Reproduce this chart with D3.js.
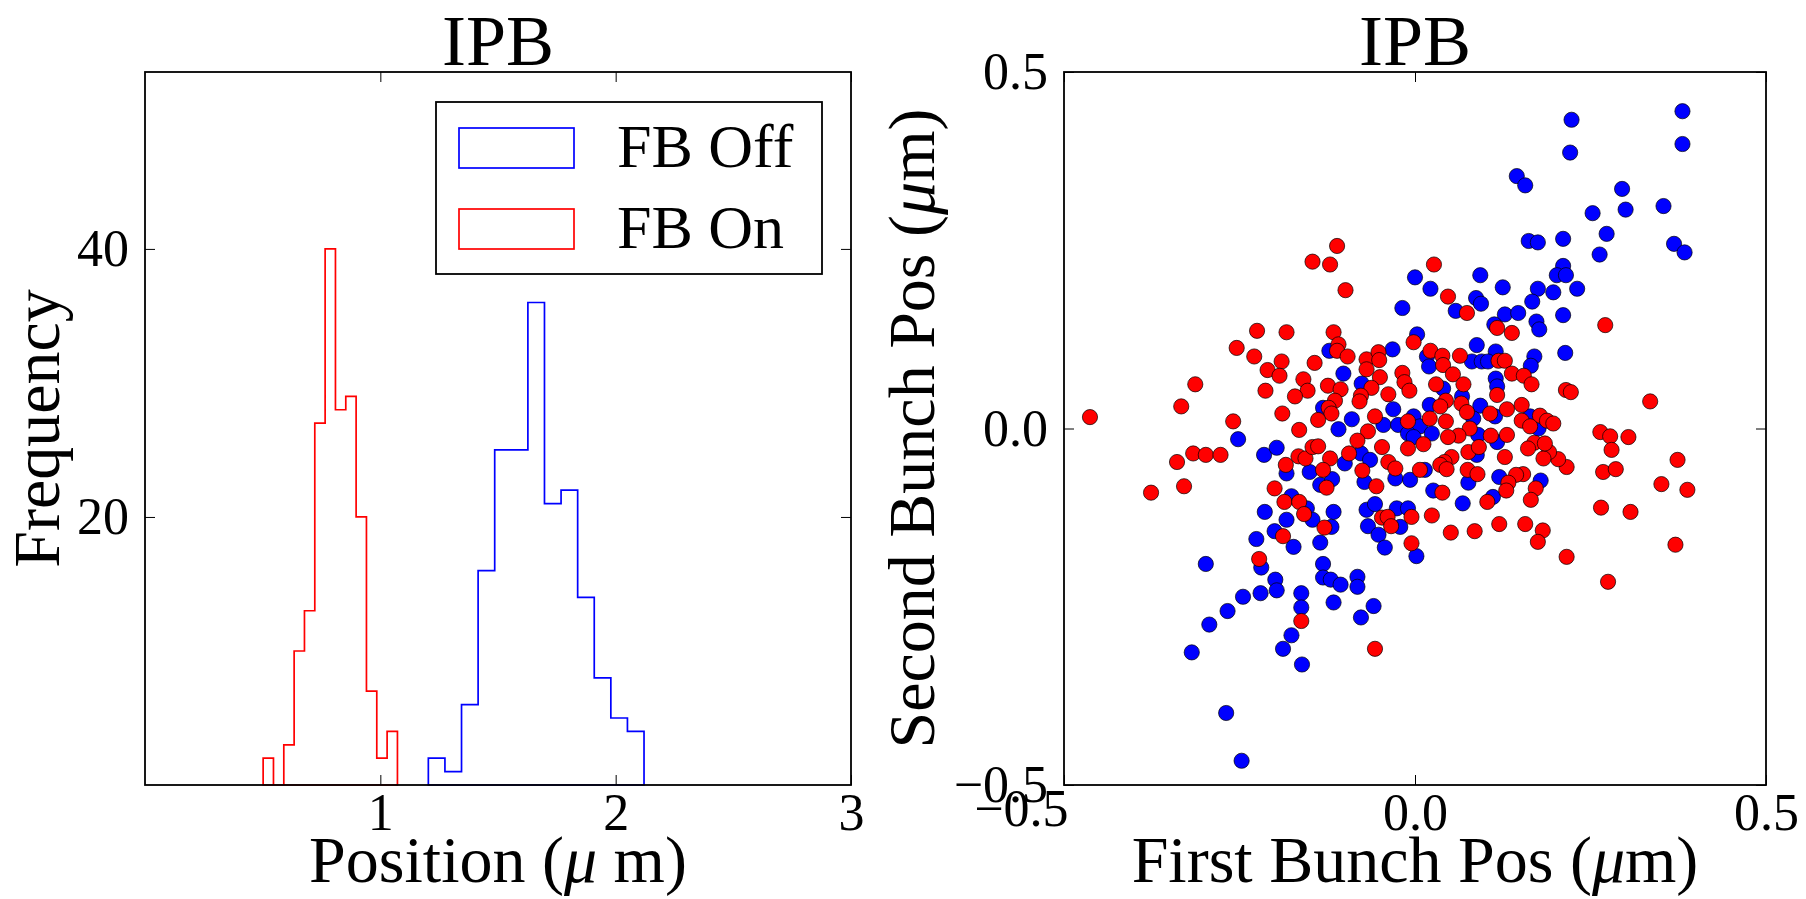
<!DOCTYPE html>
<html>
<head>
<meta charset="utf-8">
<script src="https://cdn.jsdelivr.net/npm/d3@7"></script>
<style>
  body { margin: 0; background: #fff; }
  text { font-family: "Liberation Serif", "Times New Roman", serif; fill: #000; }
</style>
</head>
<body>
<svg id="chart" width="1806" height="899"></svg>
<script>
// ---- data -------------------------------------------------------------
const seriesLabels = ["FB Off", "FB On"];
const seriesColors = ["#0000ff", "#ff0000"];

// histogram of IPB position (step outline), counts per bin
const histStartOff = 1.204, histWidthOff = 0.0705;
const histCountsOff = [2, 1, 6, 16, 25, 25, 36, 21, 22, 14, 8, 5, 4];
const histStartOn = 0.502, histWidthOn = 0.0439;
const histCountsOn = [2, 0, 3, 10, 13, 27, 40, 28, 29, 20, 7, 2, 4];
const histXTicks = [1, 2, 3];
const histYTicks = [20, 40];
const histXDomain = [0, 3];
const histYDomain = [0, 53.2];

// bunch-to-bunch correlation, FB off
const offFirst = [0.000,0.223,0.381,0.221,0.381,0.145,0.157,0.295,0.300,0.354,0.253,0.273,0.162,0.175,0.211,0.263,0.369,0.384,0.022,0.093,
  0.125,0.087,0.094,0.175,0.197,0.211,0.202,0.215,0.231,0.167,-0.018,-0.122,-0.032,0.003,-0.102,-0.076,-0.131,-0.090,-0.031,-0.002,
  -0.109,-0.045,0.058,0.128,0.147,0.211,0.173,0.177,0.113,0.088,0.115,0.214,0.170,0.165,0.017,0.081,0.095,0.104,0.020,0.040,
  0.115,0.117,0.021,0.067,0.093,0.114,0.083,0.164,0.007,-0.252,-0.215,-0.197,-0.183,-0.150,-0.135,-0.118,-0.100,-0.077,-0.064,-0.072,
  -0.028,-0.007,-0.024,-0.010,-0.176,-0.154,-0.214,-0.183,-0.200,-0.226,-0.173,-0.116,-0.146,-0.119,-0.135,-0.069,-0.057,-0.067,-0.052,-0.026,
  -0.021,-0.010,-0.043,0.002,0.176,0.117,0.090,0.024,-0.002,0.088,0.014,0.076,0.120,0.179,0.026,0.068,0.111,-0.298,-0.219,-0.199,
  -0.197,-0.220,-0.245,-0.267,-0.293,-0.318,-0.269,-0.247,-0.162,-0.162,-0.176,-0.188,-0.161,-0.131,-0.131,-0.120,-0.106,-0.116,-0.082,-0.082,
  -0.059,-0.077];
const offSecond = [0.212,0.433,0.445,0.387,0.399,0.354,0.341,0.336,0.307,0.312,0.302,0.273,0.263,0.261,0.266,0.244,0.259,0.247,0.196,0.215,
  0.198,0.183,0.175,0.196,0.191,0.228,0.215,0.215,0.196,0.178,0.169,0.109,0.111,0.132,0.077,0.063,0.029,0.013,0.027,0.017,
  -0.001,0.005,0.165,0.160,0.162,0.159,0.150,0.139,0.146,0.117,0.108,0.106,0.101,0.088,0.101,0.094,0.094,0.094,0.087,0.056,
  0.070,0.059,0.033,0.045,0.032,0.017,0.014,0.017,0.003,-0.015,-0.037,-0.027,-0.063,-0.061,-0.079,-0.071,-0.049,-0.035,-0.044,-0.075,
  -0.070,-0.072,0.005,-0.007,-0.095,-0.112,-0.117,-0.128,-0.144,-0.155,-0.166,-0.117,-0.128,-0.138,-0.160,-0.114,-0.106,-0.137,-0.149,-0.112,
  -0.138,-0.112,-0.167,-0.179,0.000,-0.019,-0.009,-0.007,-0.012,-0.037,-0.058,-0.076,-0.068,-0.073,-0.087,-0.105,-0.096,-0.190,-0.195,-0.212,
  -0.227,-0.231,-0.236,-0.256,-0.275,-0.314,-0.399,-0.466,-0.231,-0.251,-0.290,-0.309,-0.331,-0.190,-0.209,-0.212,-0.219,-0.244,-0.208,-0.222,
  -0.249,-0.265];

// bunch-to-bunch correlation, FB on
const onFirst = [-0.111,-0.146,-0.121,-0.099,0.027,0.047,-0.225,-0.183,-0.116,-0.254,-0.229,-0.109,-0.111,-0.096,-0.002,-0.190,-0.210,-0.193,-0.143,-0.069,
  -0.052,-0.051,-0.069,-0.159,-0.153,-0.124,-0.106,-0.050,-0.062,-0.018,-0.015,-0.008,-0.038,-0.213,-0.171,-0.077,-0.079,-0.114,-0.123,-0.119,
  -0.313,-0.333,-0.463,-0.189,-0.259,-0.138,-0.057,-0.010,-0.165,-0.067,0.074,0.117,0.138,0.271,0.022,0.039,0.064,0.119,0.128,0.040,
  0.138,0.155,0.054,0.069,0.030,0.117,0.166,0.215,0.222,0.335,0.044,0.036,0.066,0.131,0.107,0.152,0.074,0.021,0.044,0.152,
  0.178,0.188,0.197,0.164,0.264,0.278,0.078,-0.316,-0.298,-0.277,-0.339,-0.376,-0.329,-0.184,-0.166,-0.156,-0.146,-0.138,-0.121,-0.131,
  -0.126,-0.094,-0.082,-0.075,-0.055,-0.047,-0.038,-0.028,-0.010,0.007,-0.200,-0.186,-0.165,-0.158,-0.188,-0.129,-0.047,-0.039,-0.034,-0.005,
  -0.005,0.304,0.280,0.268,0.286,0.374,0.351,0.388,0.265,0.307,0.371,0.216,0.216,0.204,0.191,0.183,0.170,0.161,0.185,0.131,
  0.108,0.062,0.047,0.012,0.076,0.091,0.052,0.042,0.036,0.045,0.128,0.075,0.089,0.154,0.144,0.133,0.130,0.172,0.165,0.039,
  0.103,0.024,0.051,0.085,0.120,0.157,0.182,0.175,-0.222,-0.162,-0.057,0.275];
const onSecond = [0.256,0.234,0.230,0.194,0.230,0.185,0.137,0.135,0.135,0.113,0.101,0.118,0.109,0.101,0.121,0.094,0.082,0.074,0.092,0.097,
  0.107,0.096,0.083,0.069,0.053,0.060,0.055,0.072,0.057,0.078,0.065,0.053,0.048,0.053,0.045,0.046,0.038,0.039,0.029,0.021,
  0.062,0.031,0.016,0.021,0.010,0.012,0.017,0.010,-0.002,-0.004,0.162,0.141,0.134,0.145,0.109,0.102,0.102,0.095,0.095,0.089,
  0.077,0.074,0.076,0.062,0.062,0.047,0.062,0.054,0.051,0.038,0.039,0.031,0.035,0.027,0.021,0.033,0.023,0.014,0.010,0.011,
  0.018,0.011,0.007,0.003,-0.005,-0.011,0.000,-0.035,-0.037,-0.037,-0.047,-0.090,-0.081,-0.051,-0.039,-0.042,-0.026,-0.025,-0.042,-0.058,
  -0.083,-0.035,-0.017,-0.059,-0.081,-0.026,-0.047,-0.056,-0.028,-0.058,-0.084,-0.103,-0.103,-0.120,-0.151,-0.139,-0.125,-0.124,-0.137,-0.124,
  -0.161,-0.012,-0.030,-0.061,-0.057,-0.044,-0.078,-0.086,-0.111,-0.117,-0.163,-0.180,-0.054,-0.043,-0.033,-0.042,-0.020,-0.028,-0.021,-0.009,
  -0.010,-0.010,-0.012,-0.022,-0.033,-0.026,-0.040,-0.047,-0.051,-0.057,-0.040,-0.058,-0.064,-0.064,-0.065,-0.076,-0.087,-0.084,-0.100,-0.090,
  -0.103,-0.122,-0.146,-0.144,-0.134,-0.134,-0.143,-0.159,-0.183,-0.270,-0.309,-0.215];
const scatterTicks = [-0.5, 0, 0.5];
const scatterDomain = [-0.5, 0.5];

// ---- layout -------------------------------------------------------------
const svg = d3.select("#chart");
const boxL = { x0: 145, x1: 851, y0: 72, y1: 785 };
const boxR = { x0: 1064, x1: 1766, y0: 72, y1: 785 };
const TICK = 10, TICK_FONT = 52, LABEL_FONT = 66, TITLE_FONT = 72;

function drawAxes(g, box, x, y, xTicks, yTicks, xFmt, yFmt) {
  const styleAxis = sel => {
    sel.attr("font-size", null).attr("font-family", null);
    sel.select(".domain").remove();
    sel.selectAll(".tick line").attr("stroke", "#000").attr("stroke-width", 1);
    sel.selectAll(".tick text").attr("font-size", TICK_FONT);
  };
  g.append("g").attr("class", "xaxis").attr("transform", `translate(0,${box.y1})`)
    .call(d3.axisBottom(x).tickValues(xTicks).tickFormat(xFmt).tickSizeInner(-TICK).tickSizeOuter(0).tickPadding(8))
    .call(styleAxis);
  g.append("g").attr("transform", `translate(0,${box.y0})`)
    .call(d3.axisTop(x).tickValues(xTicks).tickFormat("").tickSizeInner(-TICK).tickSizeOuter(0))
    .call(styleAxis);
  g.append("g").attr("class", "yaxis").attr("transform", `translate(${box.x0},0)`)
    .call(d3.axisLeft(y).tickValues(yTicks).tickFormat(yFmt).tickSizeInner(-TICK).tickSizeOuter(0).tickPadding(16))
    .call(styleAxis);
  g.append("g").attr("transform", `translate(${box.x1},0)`)
    .call(d3.axisRight(y).tickValues(yTicks).tickFormat("").tickSizeInner(-TICK).tickSizeOuter(0))
    .call(styleAxis);
  g.append("rect")
    .attr("x", box.x0).attr("y", box.y0)
    .attr("width", box.x1 - box.x0).attr("height", box.y1 - box.y0)
    .attr("fill", "none").attr("stroke", "#000").attr("stroke-width", 1.8);
}

function addLabel(g, x, y, parts, size, rotate) {
  const t = g.append("text")
    .attr("text-anchor", "middle")
    .attr("font-size", size)
    .attr("transform", `translate(${x},${y})` + (rotate ? " rotate(-90)" : ""));
  parts.forEach(p => {
    const s = t.append("tspan").text(p.t);
    if (p.i) s.attr("font-style", "italic");
  });
}

// ---- left panel: histograms -------------------------------------------------
const gL = svg.append("g");
const xH = d3.scaleLinear().domain(histXDomain).range([boxL.x0, boxL.x1]);
const yH = d3.scaleLinear().domain(histYDomain).range([boxL.y1, boxL.y0]);

function stepPoints(start, width, counts) {
  const pts = [[start, 0]];
  counts.forEach((c, i) => {
    pts.push([start + i * width, c]);
    pts.push([start + (i + 1) * width, c]);
  });
  pts.push([start + counts.length * width, 0]);
  return pts;
}
const stepLine = d3.line().x(d => xH(d[0])).y(d => yH(d[1]));
const hists = [
  { pts: stepPoints(histStartOff, histWidthOff, histCountsOff), color: seriesColors[0] },
  { pts: stepPoints(histStartOn, histWidthOn, histCountsOn), color: seriesColors[1] }
];
gL.selectAll("path.hist").data(hists).join("path")
  .attr("class", "hist")
  .attr("d", d => stepLine(d.pts) + "Z")
  .attr("fill", "none")
  .attr("stroke", d => d.color)
  .attr("stroke-width", 1.7)
  .attr("stroke-linejoin", "miter");

drawAxes(gL, boxL, xH, yH, histXTicks, histYTicks, d3.format("d"), d3.format("d"));

// legend
const leg = gL.append("g");
leg.append("rect").attr("x", 436).attr("y", 102).attr("width", 386).attr("height", 172)
  .attr("fill", "#fff").attr("stroke", "#000").attr("stroke-width", 1.8);
seriesLabels.forEach((lab, i) => {
  const yy = 128 + i * 81;
  leg.append("rect").attr("x", 459).attr("y", yy).attr("width", 115).attr("height", 40)
    .attr("fill", "none").attr("stroke", seriesColors[i]).attr("stroke-width", 1.7);
  leg.append("text").attr("x", 617).attr("y", yy + 39).attr("font-size", 62).text(lab);
});

addLabel(gL, (boxL.x0 + boxL.x1) / 2, 65, [{ t: "IPB" }], TITLE_FONT);
addLabel(gL, (boxL.x0 + boxL.x1) / 2, 882, [{ t: "Position (" }, { t: "μ", i: true }, { t: " m)" }], LABEL_FONT);
addLabel(gL, 59, (boxL.y0 + boxL.y1) / 2, [{ t: "Frequency" }], LABEL_FONT, true);

// ---- right panel: scatter ---------------------------------------------------
const gR = svg.append("g");
const xS = d3.scaleLinear().domain(scatterDomain).range([boxR.x0, boxR.x1]);
const yS = d3.scaleLinear().domain(scatterDomain).range([boxR.y1, boxR.y0]);

const series = [
  { xs: offFirst, ys: offSecond, color: seriesColors[0] },
  { xs: onFirst, ys: onSecond, color: seriesColors[1] }
];
series.forEach(s => {
  gR.append("g").selectAll("circle")
    .data(d3.zip(s.xs, s.ys)).join("circle")
    .attr("cx", d => xS(d[0])).attr("cy", d => yS(d[1]))
    .attr("r", 7.6)
    .attr("fill", s.color)
    .attr("stroke", "#000").attr("stroke-width", 0.7);
});

const fmt1 = d3.format(".1f");
drawAxes(gR, boxR, xS, yS, scatterTicks, scatterTicks, fmt1, fmt1);
// the first x label ends at the frame edge and runs into the lowest y label
gR.select(".xaxis").selectAll(".tick text").filter(d => d === -0.5)
  .attr("text-anchor", "end").attr("x", 4).attr("y", 4);

addLabel(gR, (boxR.x0 + boxR.x1) / 2, 65, [{ t: "IPB" }], TITLE_FONT);
addLabel(gR, (boxR.x0 + boxR.x1) / 2, 882, [{ t: "First Bunch Pos (" }, { t: "μ", i: true }, { t: "m)" }], LABEL_FONT);
addLabel(gR, 934, (boxR.y0 + boxR.y1) / 2, [{ t: "Second Bunch Pos (" }, { t: "μ", i: true }, { t: "m)" }], LABEL_FONT, true);
</script>
</body>
</html>
